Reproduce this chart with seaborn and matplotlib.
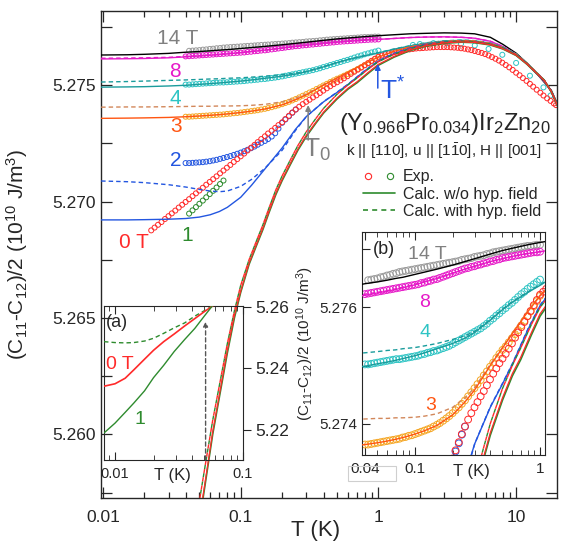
import matplotlib
matplotlib.use("Agg")
import matplotlib.pyplot as plt
import matplotlib.ticker as mt
from matplotlib.lines import Line2D
from matplotlib.legend_handler import HandlerTuple
from matplotlib.patches import Rectangle
import seaborn as sns

# ---------------- data ----------------
# calculation temperature grid (K)
T_calc = [0.0097, 0.015, 0.02, 0.03, 0.04, 0.05, 0.06, 0.07, 0.08, 0.1, 0.12, 0.15, 0.2, 0.25, 0.3,
          0.4, 0.5, 0.6, 0.8, 1.0, 1.3, 1.7, 2.2, 3, 4, 5, 6.5, 8, 10, 12, 14, 16, 18, 20]
calc_14T = [5.27629, 5.27630, 5.27632, 5.27636, 5.27641, 5.27644, 5.27647, 5.27650, 5.27652, 5.27657,
            5.27661, 5.27666, 5.27673, 5.27679, 5.27684, 5.27692, 5.27698, 5.27702, 5.27708, 5.27712,
            5.27716, 5.27720, 5.27722, 5.27724, 5.27723, 5.27720, 5.27705, 5.27675, 5.27637, 5.27594,
            5.27552, 5.27512, 5.27478, 5.27418]
calc_8T = [5.27612, 5.27613, 5.27614, 5.27617, 5.27621, 5.27625, 5.27628, 5.27631, 5.27634, 5.27639,
           5.27644, 5.27650, 5.27659, 5.27666, 5.27671, 5.27679, 5.27684, 5.27688, 5.27693, 5.27696,
           5.27700, 5.27704, 5.27706, 5.27707, 5.27705, 5.27701, 5.27688, 5.27666, 5.27632, 5.27592,
           5.27551, 5.27516, 5.27474, 5.27412]
calc_8T_hyp = [5.27615, 5.27616, 5.27617, 5.27619, 5.27623, 5.27626, 5.27629, 5.27632, 5.27635, 5.27640,
               5.27645, 5.27650, 5.27659, 5.27666, 5.27671, 5.27679, 5.27684, 5.27688, 5.27693, 5.27696,
               5.27700, 5.27704, 5.27706, 5.27707, 5.27705, 5.27701, 5.27688, 5.27666, 5.27632, 5.27592,
               5.27551, 5.27516, 5.27474, 5.27412]
calc_4T = [5.27491, 5.27492, 5.27493, 5.27496, 5.27499, 5.27503, 5.27506, 5.27509, 5.27512, 5.27517,
           5.27522, 5.27529, 5.27538, 5.27547, 5.27557, 5.27578, 5.27596, 5.27609, 5.27626, 5.27638,
           5.27654, 5.27668, 5.27680, 5.27689, 5.27692, 5.27690, 5.27680, 5.27662, 5.27633, 5.27594,
           5.27555, 5.27521, 5.27474, 5.27412]
calc_4T_hyp = [5.27513, 5.27515, 5.27517, 5.27520, 5.27522, 5.27524, 5.27526, 5.27527, 5.27529, 5.27531,
               5.27534, 5.27538, 5.27545, 5.27551, 5.27559, 5.27579, 5.27597, 5.27610, 5.27627, 5.27639,
               5.27655, 5.27669, 5.27681, 5.27690, 5.27693, 5.27691, 5.27681, 5.27663, 5.27634, 5.27595,
               5.27556, 5.27522, 5.27475, 5.27413]
calc_3T = [5.27357, 5.27358, 5.27359, 5.27361, 5.27364, 5.27367, 5.27370, 5.27373, 5.27376, 5.27382,
           5.27388, 5.27397, 5.27415, 5.27437, 5.27458, 5.27500, 5.27530, 5.27555, 5.27593, 5.27620,
           5.27645, 5.27663, 5.27676, 5.27686, 5.27690, 5.27688, 5.27678, 5.27660, 5.27631, 5.27593,
           5.27554, 5.27520, 5.27473, 5.27411]
calc_3T_hyp = [5.27405, 5.27406, 5.27406, 5.27407, 5.27408, 5.27409, 5.27409, 5.27410, 5.27410, 5.27411,
               5.27413, 5.27417, 5.27428, 5.27444, 5.27462, 5.27502, 5.27531, 5.27556, 5.27594, 5.27621,
               5.27646, 5.27664, 5.27677, 5.27687, 5.27691, 5.27689, 5.27679, 5.27661, 5.27632, 5.27594,
               5.27555, 5.27521, 5.27474, 5.27412]
calc_2T = [5.26921, 5.26921, 5.26922, 5.26924, 5.26927, 5.26933, 5.26943, 5.26957, 5.26975, 5.27018,
           5.27070, 5.27140, 5.27230, 5.27310, 5.27365, 5.27428, 5.27468, 5.27502, 5.27562, 5.27603,
           5.27635, 5.27658, 5.27674, 5.27684, 5.27687, 5.27685, 5.27675, 5.27658, 5.27629, 5.27591,
           5.27552, 5.27519, 5.27472, 5.27411]
calc_2T_hyp = [5.27088, 5.27085, 5.27081, 5.27072, 5.27062, 5.27052, 5.27045, 5.27042, 5.27045, 5.27065,
               5.27095, 5.27143, 5.27220, 5.27305, 5.27365, 5.27429, 5.27469, 5.27503, 5.27563, 5.27604,
               5.27636, 5.27659, 5.27675, 5.27685, 5.27688, 5.27686, 5.27676, 5.27659, 5.27630, 5.27592,
               5.27553, 5.27520, 5.27473, 5.27412]

# 0 T and 1 T calculations (steep part)
T_calc01 = [0.05, 0.055, 0.0626, 0.07, 0.08, 0.09, 0.1, 0.115, 0.13, 0.145, 0.16, 0.18, 0.2, 0.23, 0.26,
            0.3, 0.35, 0.4, 0.5, 0.6, 0.7, 0.85, 1.0, 1.3, 1.7, 2.2, 3, 4, 5, 6.5, 8, 10, 12, 14, 16, 18, 20]
calc_1T = [5.2562, 5.2578, 5.2600, 5.2616, 5.2635, 5.2650, 5.2661, 5.2673, 5.2681, 5.2688, 5.2695, 5.2703,
           5.2709, 5.2716, 5.2722, 5.2728, 5.27335, 5.2738, 5.2744, 5.27482, 5.2751, 5.27552, 5.27585,
           5.2762, 5.27648, 5.27666, 5.27679, 5.27684, 5.27682, 5.27672, 5.27655, 5.27627, 5.27589,
           5.27551, 5.27519, 5.27471, 5.2741]
calc_0T = [5.2563, 5.2579, 5.2601, 5.2617, 5.2636, 5.2651, 5.26615, 5.26735, 5.26815, 5.26885, 5.26955,
           5.27035, 5.27095, 5.27165, 5.27225, 5.27285, 5.27339, 5.27384, 5.27444, 5.27486, 5.27514,
           5.27556, 5.27589, 5.27623, 5.2765, 5.27668, 5.27681, 5.27685, 5.27683, 5.27673, 5.27656,
           5.27628, 5.2759, 5.27552, 5.2752, 5.27472, 5.27411]
calc_01T_hyp = [5.2571, 5.2586, 5.2606, 5.2621, 5.2639, 5.2653, 5.2664, 5.2675, 5.2683, 5.2690, 5.2697,
                5.2705, 5.2711, 5.2718, 5.2724, 5.2730, 5.27355, 5.2740, 5.2746, 5.2750, 5.2753, 5.2757,
                5.2760, 5.27632, 5.27656, 5.27672, 5.27684, 5.27688, 5.27686, 5.27676, 5.27659, 5.2763,
                5.27592, 5.27554, 5.27521, 5.27473, 5.27412]

# experiment temperature grids (K)
T_exp = [0.0398, 0.0422, 0.0447, 0.0473, 0.0501, 0.0531, 0.0562, 0.0596, 0.0631, 0.0668, 0.0708, 0.0750,
         0.0794, 0.0841, 0.0891, 0.0944, 0.1, 0.106, 0.112, 0.119, 0.126, 0.133, 0.141, 0.150, 0.158,
         0.168, 0.178, 0.188, 0.2, 0.211, 0.224, 0.237, 0.251, 0.266, 0.282, 0.299, 0.316, 0.335, 0.355,
         0.376, 0.398, 0.422, 0.447, 0.473, 0.501, 0.531, 0.562, 0.596, 0.631, 0.668, 0.708, 0.750,
         0.794, 0.841, 0.891, 0.944, 1.0]
T_exp_low = [0.0224, 0.0237, 0.0251, 0.0266, 0.0282, 0.0299, 0.0316, 0.0335, 0.0355, 0.0376]
T_exp_high = [1.06, 1.12, 1.19, 1.26, 1.33, 1.41, 1.50, 1.58, 1.68, 1.78, 1.88, 2.0, 2.11, 2.24, 2.37,
              2.51, 2.66, 2.82, 2.99, 3.16, 3.35, 3.55, 3.76, 3.98, 4.22, 4.47, 4.73, 5.01, 5.31, 5.62,
              5.96, 6.31, 6.68, 7.08, 7.50, 7.94, 8.41, 8.91, 9.44, 10.0, 10.6, 11.2, 11.9, 12.6, 13.3,
              14.1, 15.0, 15.8, 16.8, 17.8, 18.8, 19.5]

exp_14T = [5.27647, 5.27648, 5.27649, 5.27650, 5.27652, 5.27653, 5.27655, 5.27656, 5.27658, 5.27659,
           5.27661, 5.27662, 5.27663, 5.27664, 5.27665, 5.27666, 5.27667, 5.27668, 5.27669, 5.27670,
           5.27671, 5.27672, 5.27673, 5.27674, 5.27675, 5.27676, 5.27677, 5.27678, 5.27679, 5.27680,
           5.27682, 5.27683, 5.27684, 5.27685, 5.27687, 5.27688, 5.27689, 5.27690, 5.27692, 5.27693,
           5.27695, 5.27696, 5.27697, 5.27698, 5.27699, 5.27700, 5.27701, 5.27702, 5.27703, 5.27704,
           5.27705, 5.27706, 5.27706, 5.27707, 5.27708, 5.27708]          # from 0.0422 K
exp_8T = [5.27623, 5.27624, 5.27625, 5.27626, 5.27627, 5.27628, 5.27629, 5.27630, 5.27631, 5.27632,
          5.27633, 5.27634, 5.27635, 5.27636, 5.27637, 5.27638, 5.27639, 5.27640, 5.27642, 5.27643,
          5.27645, 5.27646, 5.27648, 5.27649, 5.27651, 5.27653, 5.27655, 5.27657, 5.27659, 5.27661,
          5.27663, 5.27665, 5.27667, 5.27668, 5.27670, 5.27671, 5.27673, 5.27674, 5.27676, 5.27677,
          5.27679, 5.27680, 5.27682, 5.27683, 5.27685, 5.27686, 5.27687, 5.27688, 5.27689, 5.27690,
          5.27691, 5.27692, 5.27693, 5.27694, 5.27695, 5.27695, 5.27696]
exp_4T = [5.27502, 5.27502, 5.27503, 5.27504, 5.27505, 5.27506, 5.27507, 5.27508, 5.27509, 5.27510,
          5.27511, 5.27511, 5.27512, 5.27513, 5.27514, 5.27515, 5.27516, 5.27517, 5.27519, 5.27520,
          5.27522, 5.27523, 5.27525, 5.27526, 5.27528, 5.27530, 5.27532, 5.27534, 5.27537, 5.27540,
          5.27543, 5.27546, 5.27549, 5.27552, 5.27555, 5.27558, 5.27561, 5.27564, 5.27568, 5.27572,
          5.27577, 5.27581, 5.27586, 5.27590, 5.27595, 5.27599, 5.27604, 5.27608, 5.27613, 5.27618,
          5.27623, 5.27627, 5.27632, 5.27636, 5.27640, 5.27644, 5.27648]
exp_3T = [5.27364, 5.27364, 5.27365, 5.27366, 5.27367, 5.27368, 5.27369, 5.27370, 5.27371, 5.27372,
          5.27373, 5.27374, 5.27376, 5.27377, 5.27379, 5.27380, 5.27382, 5.27384, 5.27386, 5.27388,
          5.27390, 5.27392, 5.27395, 5.27398, 5.27401, 5.27405, 5.27409, 5.27413, 5.27418, 5.27423,
          5.27428, 5.27434, 5.27440, 5.27447, 5.27454, 5.27461, 5.27468, 5.27475, 5.27483, 5.27490,
          5.27498, 5.27505, 5.27513, 5.27520, 5.27527, 5.27533, 5.27540, 5.27547, 5.27554, 5.27561,
          5.27569, 5.27577, 5.27585, 5.27593, 5.27602, 5.27611, 5.27620]
exp_2T = [5.27165, 5.27165, 5.27166, 5.27167, 5.27168, 5.27169, 5.27171, 5.27173, 5.27176, 5.27179,
          5.27183, 5.27187, 5.27191, 5.27195, 5.27200, 5.27205, 5.27210, 5.27216, 5.27222, 5.27229,
          5.27236, 5.27244, 5.27252, 5.27260, 5.27268, 5.27279, 5.27293, 5.27313, 5.27338, 5.27352,
          5.27366, 5.27381, 5.27395]                                          # up to 0.251 K
exp_1T = [5.26948, 5.26962, 5.26976, 5.26990, 5.27004, 5.27018, 5.27032, 5.27046, 5.27060, 5.27075,
          5.27090]                                                            # 0.0422 - 0.075 K
exp_0T_low = [5.26876, 5.26888, 5.26900, 5.26912, 5.26925, 5.26937, 5.26949, 5.26961, 5.26974, 5.26986]
exp_0T = [5.26998, 5.27010, 5.27023, 5.27035, 5.27047, 5.27059, 5.27072, 5.27084, 5.27096, 5.27108,
          5.27121, 5.27133, 5.27145, 5.27157, 5.27170, 5.27182, 5.27194, 5.27206, 5.27219, 5.27231,
          5.27243, 5.27255, 5.27268, 5.27280, 5.27292, 5.27304, 5.27316, 5.27328, 5.27340, 5.27354,
          5.27368, 5.27382, 5.27395, 5.27407, 5.27418, 5.27428, 5.27437, 5.27447, 5.27456, 5.27466,
          5.27476, 5.27486, 5.27495, 5.27504, 5.27512, 5.27520, 5.27529, 5.27538, 5.27548, 5.27557,
          5.27566, 5.27575, 5.27585, 5.27594, 5.27604, 5.27613, 5.27622]
exp_0T_high = [5.27627, 5.27632, 5.27636, 5.27640, 5.27643, 5.27646, 5.27649, 5.27651, 5.27653, 5.27655,
               5.27657, 5.27658, 5.27659, 5.27660, 5.27661, 5.27662, 5.27663, 5.27663, 5.27663, 5.27663,
               5.27662, 5.27661, 5.27660, 5.27658, 5.27656, 5.27653, 5.27650, 5.27646, 5.27642, 5.27638,
               5.27633, 5.27627, 5.27620, 5.27613, 5.27605, 5.27596, 5.27586, 5.27576, 5.27565, 5.27553,
               5.27542, 5.27530, 5.27518, 5.27505, 5.27493, 5.27480, 5.27467, 5.27455, 5.27443, 5.27432,
               5.27421, 5.27414]
T_exp_4T_high = [1.78, 2.0, 2.51, 3.16, 3.98, 5.01, 6.31, 7.94, 10.0, 12.6, 15.8, 17.8]
exp_4T_high = [5.27672, 5.27676, 5.2768, 5.2768, 5.27677, 5.2767, 5.27655, 5.2763, 5.27595, 5.2754,
               5.2749, 5.27455]

# inset (a): low-temperature calculation
T_a = [0.0082, 0.01, 0.012, 0.014, 0.017, 0.02, 0.024, 0.029, 0.035, 0.042, 0.05, 0.057, 0.065]
a_0T = [5.2342, 5.2350, 5.2368, 5.2395, 5.2430, 5.2459, 5.2487, 5.2512, 5.2538, 5.2562, 5.2585, 5.2601, 5.2619]
a_1T = [5.2190, 5.2222, 5.2257, 5.2287, 5.2327, 5.2370, 5.2410, 5.2455, 5.2494, 5.2530, 5.2571, 5.2601, 5.2635]
a_1T_hyp = [5.2487, 5.2484, 5.2483, 5.2484, 5.2489, 5.2498, 5.2514, 5.2532, 5.2548, 5.2570, 5.2588, 5.2602, 5.2617]

# ---------------- style ----------------
sns.set_style("ticks")
plt.rcParams['font.family'] = ['Liberation Sans', 'DejaVu Sans']
plt.rcParams['mathtext.fontset'] = 'custom'
plt.rcParams['mathtext.rm'] = 'Liberation Sans'
plt.rcParams['mathtext.it'] = 'Liberation Sans:italic'
plt.rcParams['mathtext.bf'] = 'Liberation Sans:bold'
plt.rcParams['mathtext.default'] = 'regular'

C_MAG = '#e619c8'
C_CYAN = '#2ec4c4'
C_TEAL = '#1a9c9c'
C_ORANGE_EXP = '#f5a623'
C_ORANGE = '#ff5511'
C_ORANGE_D = '#d2875a'
C_BLUE = '#2356e0'
C_RED = '#ff2a2a'
C_GREEN = '#2e8b2e'
DASH = (0, (3.2, 2.2))


def calc(axx, T, V, color, ls='-', lw=1.0, z=3):
    sns.lineplot(x=T, y=V, ax=axx, color=color, linestyle=ls, linewidth=lw,
                 estimator=None, sort=False, zorder=z)


def expt(axx, T, V, color, s=14, lw=0.7, z=2):
    sns.scatterplot(x=T, y=V, ax=axx, marker='o', s=s, facecolors='none', edgecolor=color,
                    linewidth=lw, zorder=z)


def draw_all(axx, s):
    expt(axx, T_exp[1:], exp_14T, '#9a9a9a', s=s)
    expt(axx, T_exp, exp_8T, C_MAG, s=s)
    expt(axx, T_exp, exp_4T, C_CYAN, s=s)
    expt(axx, T_exp_4T_high, exp_4T_high, C_CYAN, s=s)
    expt(axx, T_exp, exp_3T, C_ORANGE_EXP, s=s)
    expt(axx, T_exp[:len(exp_2T)], exp_2T, C_BLUE, s=s)
    expt(axx, T_exp[1:1 + len(exp_1T)], exp_1T, C_GREEN, s=s)
    expt(axx, T_exp_low + T_exp + T_exp_high, exp_0T_low + exp_0T + exp_0T_high, C_RED, s=s)
    calc(axx, T_calc, calc_14T, 'black')
    calc(axx, T_calc, calc_8T_hyp, C_MAG, ls=DASH)
    calc(axx, T_calc, calc_8T, C_MAG)
    calc(axx, T_calc, calc_4T_hyp, C_TEAL, ls=DASH)
    calc(axx, T_calc, calc_4T, C_TEAL)
    calc(axx, T_calc, calc_3T_hyp, C_ORANGE_D, ls=DASH)
    calc(axx, T_calc, calc_3T, C_ORANGE)
    calc(axx, T_calc, calc_2T_hyp, C_BLUE, ls=DASH)
    calc(axx, T_calc, calc_2T, C_BLUE)
    calc(axx, T_calc01, calc_01T_hyp, C_GREEN, ls=(0, (3, 3)))
    calc(axx, T_calc01, calc_01T_hyp, C_RED, ls=(3, (3, 3)))
    calc(axx, T_calc01, calc_1T, C_GREEN, lw=1.2)
    calc(axx, T_calc01, calc_0T, C_RED, lw=0.9)


fig = plt.figure(figsize=(5.61, 5.41), dpi=100)
ax = fig.add_axes([0.180, 0.0795, 0.8128, 0.9002])
ax.set_xscale('log')
draw_all(ax, 13)

ax.set_xlim(0.00967, 19.8)
ax.set_ylim(5.25727, 5.27818)
ax.set_xticks([0.01, 0.1, 1, 10], ['0.01', '0.1', '1', '10'])
ax.xaxis.set_minor_locator(mt.LogLocator(base=10, subs=range(2, 10)))
ax.xaxis.set_minor_formatter(mt.NullFormatter())
yt = [5.2575, 5.26, 5.2625, 5.265, 5.2675, 5.27, 5.2725, 5.275, 5.2775]
ax.set_yticks(yt, ['' if i % 2 == 0 else f'{v:.3f}' for i, v in enumerate(yt)])
ax.tick_params(which='both', direction='in', top=True, right=True, labelsize=12.5, width=0.9)
ax.tick_params(which='major', length=8)
ax.tick_params(which='minor', length=4)
ax.tick_params(axis='x', pad=9)
for sp in ax.spines.values():
    sp.set_linewidth(1.0)
ax.set_xlabel('T (K)', fontsize=16)
ax.xaxis.set_label_coords(0.47, -0.045)
ax.set_ylabel(r'(C$_{11}$-C$_{12}$)/2 (10$^{10}$ J/m$^{3}$)', fontsize=15)
ax.yaxis.set_label_coords(-0.155, 0.5)

# field labels
lab = dict(fontsize=15, ha='center', va='center')
ax.text(0.035, 5.27701, '14 T', color='#808080', **lab)
ax.text(0.0333, 5.2756, '8', color=C_MAG, **lab)
ax.text(0.0333, 5.27444, '4', color=C_CYAN, **lab)
ax.text(0.0339, 5.2732, '3', color=C_ORANGE, **lab)
ax.text(0.0339, 5.27174, '2', color=C_BLUE, **lab)
ax.text(0.0168, 5.26823, '0 T', color=C_RED, **lab)
ax.text(0.0407, 5.26853, '1', color=C_GREEN, **lab)

# T0 and T* markers
ax.annotate('', xy=(0.309, 5.27414), xytext=(0.309, 5.27264),
            arrowprops=dict(arrowstyle='-|>', color='#808080', lw=1.1, mutation_scale=8, shrinkA=0, shrinkB=0))
ax.text(0.282, 5.2722, r'T$_0$', color='#808080', fontsize=19, ha='left', va='center')
ax.annotate('', xy=(0.99, 5.27590), xytext=(0.99, 5.27487),
            arrowprops=dict(arrowstyle='-|>', color=C_BLUE, lw=1.1, mutation_scale=8, shrinkA=0, shrinkB=0))
ax.text(1.02, 5.27475, r'T$^{*}$', color=C_BLUE, fontsize=19, ha='left', va='center')

ax.text(0.754, 0.768, r'(Y$_{0.966}$Pr$_{0.034}$)Ir$_2$Zn$_{20}$', transform=ax.transAxes,
        fontsize=17, ha='center', va='center')
ax.text(0.752, 0.713, r'k || [110], u || [1$\bar{1}$0], H || [001]', transform=ax.transAxes,
        fontsize=11, ha='center', va='center')

h_exp = (Line2D([], [], ls='', marker='o', mfc='none', mec=C_RED, ms=4.5, mew=0.8),
         Line2D([], [], ls='', marker='o', mfc='none', mec=C_GREEN, ms=4.5, mew=0.8))
h_wo = Line2D([], [], color=C_GREEN, lw=1.2)
h_w = Line2D([], [], color=C_GREEN, lw=1.2, ls=(0, (3, 2.5)))
ax.legend([h_exp, h_wo, h_w], ['Exp.', 'Calc. w/o hyp. field', 'Calc. with hyp. field'],
          handler_map={tuple: HandlerTuple(ndivide=None, pad=0.8)},
          loc='upper left', bbox_to_anchor=(0.575, 0.675), frameon=False, fontsize=11.5,
          handlelength=2.0, handletextpad=0.5, labelspacing=0.15, borderaxespad=0, borderpad=0)

# ---------------- inset (a) ----------------
axa = fig.add_axes([0.1854, 0.1497, 0.2478, 0.2847])
axa.patch.set_alpha(0)
axa.set_xscale('log')
calc(axa, T_a, a_1T_hyp, C_GREEN, ls=DASH)
calc(axa, T_a, a_0T, C_RED, lw=1.2)
calc(axa, T_a, a_1T, C_GREEN, lw=1.0)
axa.annotate('', xy=(0.051, 5.2552), xytext=(0.051, 5.2102),
             arrowprops=dict(arrowstyle='-|>', color='#555555', lw=1.0, ls=(0, (3, 2)),
                             mutation_scale=7, shrinkA=0, shrinkB=0))
axa.set_xlim(0.0082, 0.1)
axa.set_ylim(5.2102, 5.2603)
axa.set_xticks([0.01, 0.1], ['0.01', '0.1'])
axa.xaxis.set_minor_locator(mt.LogLocator(base=10, subs=range(2, 10)))
axa.xaxis.set_minor_formatter(mt.NullFormatter())
axa.yaxis.tick_right()
axa.set_yticks([5.22, 5.24, 5.26], ['5.22', '5.24', '5.26'])
axa.tick_params(axis='x', which='both', direction='in', top=True, labelsize=10.5, pad=5)
axa.tick_params(axis='x', which='major', length=6)
axa.tick_params(axis='x', which='minor', length=3.5)
axa.tick_params(axis='y', direction='out', length=6, labelsize=12.5, pad=3)
axa.set_xlabel('')
axa.set_ylabel('')
axa.text(0.49, -0.1, 'T (K)', transform=axa.transAxes, fontsize=12, ha='center', va='center')
axa.text(0.015, 0.89, '(a)', transform=axa.transAxes, fontsize=13, ha='left', va='center')
axa.text(0.115, 0.617, '0 T', transform=axa.transAxes, fontsize=14, color=C_RED, ha='center', va='center')
axa.text(0.26, 0.266, '1', transform=axa.transAxes, fontsize=14, color=C_GREEN, ha='center', va='center')

# ---------------- inset (b) ----------------
axb = fig.add_axes([0.6453, 0.159, 0.3262, 0.4122])
axb.set_facecolor('white')
axb.set_xscale('log')
draw_all(axb, 24)
axb.set_xlim(0.0377, 1.096)
axb.set_ylim(5.27346, 5.2773)
axb.set_xticks([0.04, 0.1, 1], ['0.04', '0.1', '1'])
axb.set_xticks([0.05, 0.06, 0.07, 0.08, 0.09, 0.2, 0.3, 0.4, 0.5, 0.6, 0.7, 0.8, 0.9], minor=True)
axb.xaxis.set_minor_formatter(mt.NullFormatter())
axb.set_yticks([5.274, 5.275, 5.276, 5.277], ['5.274', '', '5.276', ''])
axb.tick_params(which='both', direction='in', top=True, labelsize=11)
axb.tick_params(which='major', length=6)
axb.tick_params(which='minor', length=3.5)
axb.tick_params(axis='x', pad=5)
axb.set_xlabel('')
axb.set_ylabel(r'(C$_{11}$-C$_{12}$)/2 (10$^{10}$ J/m$^{3}$)', fontsize=11, labelpad=2)
axb.text(0.6, -0.075, 'T (K)', transform=axb.transAxes, fontsize=12, ha='center', va='center')
axb.text(0.06, 0.92, '(b)', transform=axb.transAxes, fontsize=13, ha='left', va='center')
axb.text(0.355, 0.897, '14 T', transform=axb.transAxes, fontsize=14, color='#808080', ha='center', va='center')
axb.text(0.344, 0.686, '8', transform=axb.transAxes, fontsize=14, color=C_MAG, ha='center', va='center')
axb.text(0.344, 0.547, '4', transform=axb.transAxes, fontsize=14, color=C_CYAN, ha='center', va='center')
axb.text(0.377, 0.224, '3', transform=axb.transAxes, fontsize=14, color=C_ORANGE, ha='center', va='center')

fig.patches.append(Rectangle((0.620, 0.111), 0.0856, 0.0277, transform=fig.transFigure,
                             fill=False, edgecolor='#cfcfcf', lw=0.8))

fig.savefig('out.png', dpi=100)
